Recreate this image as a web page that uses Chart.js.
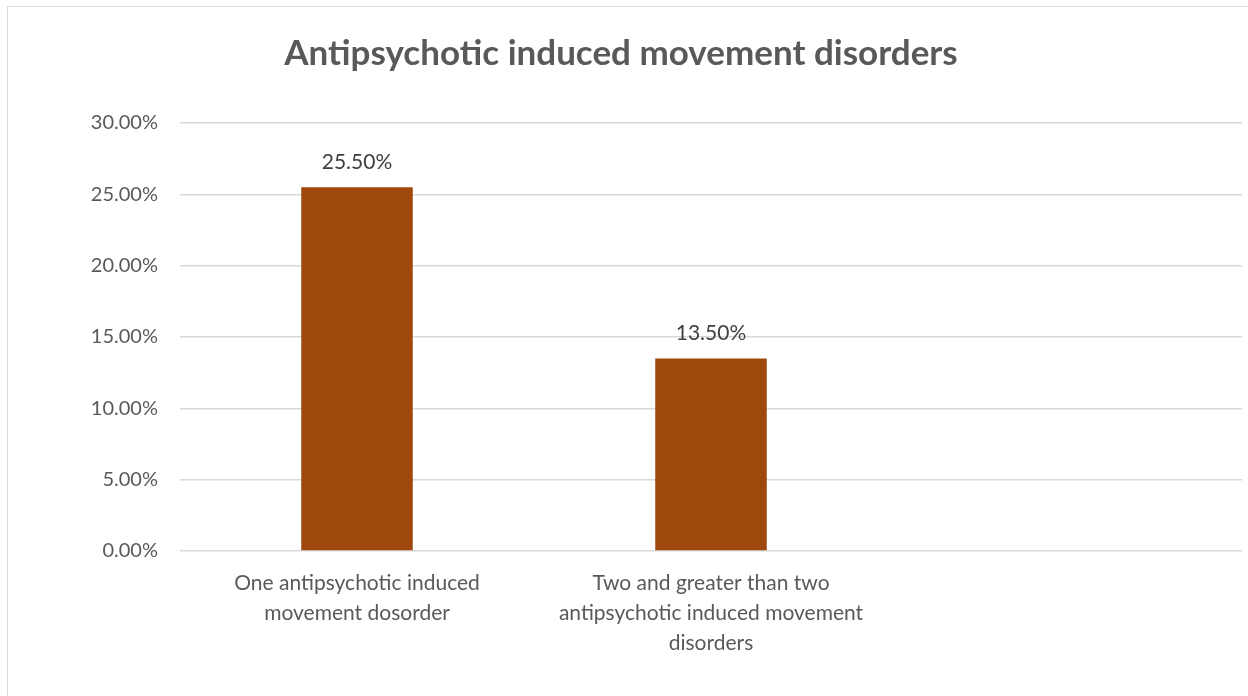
<!DOCTYPE html>
<html>
<head>
<meta charset="utf-8">
<script src="https://cdn.jsdelivr.net/npm/chart.js@4.4.1/dist/chart.umd.min.js"></script>
<style>
  html, body { margin: 0; padding: 0; background: #fff; }
  #frame { position: absolute; left: 7px; top: 6px; width: 1260px; height: 720px; border: 1px solid #d9d9d9; }
  #wrap { position: absolute; left: 0; top: 0; width: 1248px; height: 696px; }
</style>
</head>
<body>
<div id="frame"></div>
<div id="wrap"><canvas id="myChart"></canvas></div>
<script>
// categorias (la tercera esta vacia en el original)
var categorias = [
  ["One antipsychotic induced", "movement dosorder"],
  ["Two and greater than two", "antipsychotic induced movement", "disorders"],
  ""
];
var valores = [0.255, 0.135, null];
var etiquetas = ["25.50%", "13.50%", ""];
var titulo = "Antipsychotic induced movement disorders";

var fuente = "Lato, 'Open Sans', sans-serif";

// plugin para las etiquetas encima de las barras
var etiquetasBarras = {
  id: "etiquetasBarras",
  afterDatasetsDraw: function (chart) {
    var ctx = chart.ctx;
    var meta = chart.getDatasetMeta(0);
    ctx.save();
    ctx.font = "21px " + fuente;
    ctx.fillStyle = "#404040";
    ctx.textAlign = "center";
    ctx.textBaseline = "middle";
    meta.data.forEach(function (bar, i) {
      if (valores[i] == null) return;
      ctx.fillText(etiquetas[i], bar.x, bar.y - 25);
    });
    ctx.restore();
  }
};

var graficar = document.getElementById("myChart").getContext("2d");
var myChart = new Chart(graficar, {
  type: "bar",
  data: {
    labels: categorias,
    datasets: [
      {
        data: valores,
        backgroundColor: "#9e480e",
        categoryPercentage: 0.315,
        barPercentage: 1
      }
    ]
  },
  plugins: [etiquetasBarras],
  options: {
    responsive: true,
    maintainAspectRatio: false,
    animation: false,
    layout: { padding: { left: 0, right: 6, top: 0, bottom: 0 } },
    plugins: {
      legend: { display: false },
      tooltip: { enabled: false },
      title: {
        display: true,
        text: titulo,
        color: "#595959",
        font: { family: fuente, size: 35, weight: "bold" },
        padding: { top: 33, bottom: 48 }
      }
    },
    scales: {
      y: {
        min: 0,
        max: 0.30,
        ticks: {
          stepSize: 0.05,
          color: "#595959",
          font: { family: fuente, size: 20 },
          padding: 22,
          callback: function (v) { return (v * 100).toFixed(2) + "%"; }
        },
        grid: { color: "#d9d9d9", lineWidth: 1.5, drawTicks: false },
        border: { display: false },
        afterFit: function (s) { s.width = 180; }
      },
      x: {
        ticks: {
          color: "#595959",
          font: { family: fuente, size: 21, lineHeight: 1.43 },
          padding: 9,
          maxRotation: 0,
          autoSkip: false
        },
        grid: { display: false },
        border: { display: false },
        afterFit: function (s) { s.height = 145; }
      }
    }
  }
});
</script>
</body>
</html>
